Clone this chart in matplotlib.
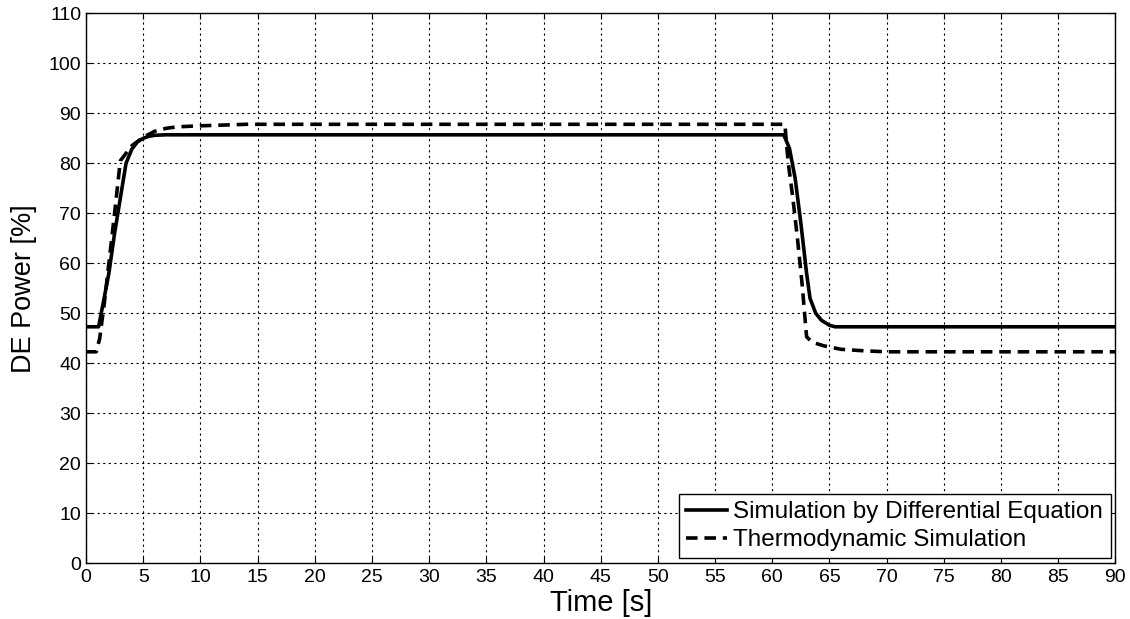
import numpy as np
import matplotlib.pyplot as plt

plt.rcParams['font.family'] = ['Liberation Sans', 'DejaVu Sans']

# Simulation by differential equation (time [s], power [%])
t_diff = [0, 1.1, 1.5, 2.0, 2.5, 3.0, 3.5, 4.0, 4.5, 5.0, 5.5, 6.0, 7.0,
          61.0, 61.5, 62.0, 62.5, 63.0, 63.3, 63.8, 64.3, 65.0, 65.5, 90]
p_diff = [47.3, 47.3, 52, 58, 66, 73, 80, 82.8, 84.3, 85.0, 85.4, 85.6, 85.7,
          85.7, 83, 77, 68, 58, 53, 50, 48.6, 47.6, 47.3, 47.3]

# Thermodynamic simulation
t_thermo = [0, 0.9, 1.2, 1.6, 2.0, 2.5, 3.0, 3.5, 4.0, 5.0, 6.0, 7.0, 8.0, 10.0, 14.0,
            61.1, 61.4, 61.8, 62.2, 62.6, 63.0, 63.5, 64.5, 66.0, 68.0, 70.0, 90]
p_thermo = [42.3, 42.3, 45, 52, 60, 70, 80.5, 82, 83.5, 85.2, 86.4, 87.0, 87.3, 87.5, 87.8,
            87.8, 80, 73, 65, 56, 45.3, 44.2, 43.5, 42.8, 42.5, 42.3, 42.3]

x_ticks = np.arange(0, 91, 5)
y_ticks = np.arange(0, 111, 10)

fig = plt.figure(figsize=(11.3, 6.19), dpi=100)
ax = fig.add_axes([0.0761, 0.09, 0.911, 0.8885])

ax.plot(t_diff, p_diff, color='black', lw=2.6, label='Simulation by Differential Equation')
ax.plot(t_thermo, p_thermo, color='black', lw=2.6, linestyle=(0, (3.2, 1.9)),
        label='Thermodynamic Simulation')

ax.set_xlim(0, 90)
ax.set_ylim(0, 110)
ax.set_xticks(x_ticks)
ax.set_yticks(y_ticks)
ax.tick_params(direction='in', top=True, right=True, labelsize=14, length=4)
ax.tick_params(axis='x', pad=4)
ax.grid(True, color='black', linestyle=(0, (2, 3)), lw=0.8)
for s in ax.spines.values():
    s.set_linewidth(1.0)

ax.set_xlabel('Time [s]', fontsize=21, labelpad=2)
ax.set_ylabel('DE Power [%]', fontsize=19.5, labelpad=8)

leg = ax.legend(loc='lower right', fontsize=17.5, handlelength=1.7, fancybox=False,
                framealpha=1, edgecolor='black', borderaxespad=0.2,
                handletextpad=0.25, borderpad=0.3, labelspacing=0.25)
leg.get_frame().set_linewidth(1.0)

fig.savefig('out.png', dpi=100)
